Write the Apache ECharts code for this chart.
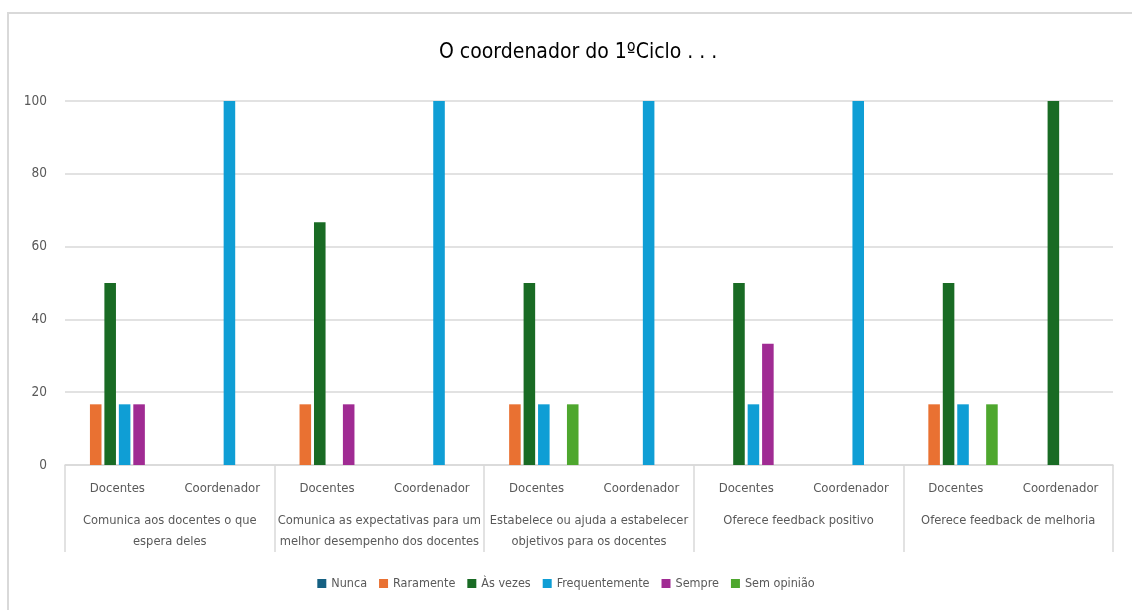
<!DOCTYPE html>
<html>
<head>
<meta charset="utf-8">
<script src="https://cdn.jsdelivr.net/npm/echarts@6/dist/echarts.min.js"></script>
<style>
  html, body { margin: 0; padding: 0; background: #fff; }
  #chart { width: 1132px; height: 610px; }
</style>
</head>
<body>
<div id="chart"></div>
<script>
// Respondent type within each question
const respondents = ['Docentes', 'Coordenador', 'Docentes', 'Coordenador', 'Docentes', 'Coordenador', 'Docentes', 'Coordenador', 'Docentes', 'Coordenador'];
// Questions (outer category level)
const questions = [
  'Comunica aos docentes o que\nespera deles',
  'Comunica as expectativas para um\nmelhor desempenho dos docentes',
  'Estabelece ou ajuda a estabelecer\nobjetivos para os docentes',
  'Oferece feedback positivo',
  'Oferece feedback de melhoria'
];
const yTicks = [0, 20, 40, 60, 80, 100];

// Percentages per answer option (Docentes, Coordenador for each question)
const nunca          = [0, 0, 0, 0, 0, 0, 0, 0, 0, 0];
const raramente      = [16.67, 0, 16.67, 0, 16.67, 0, 0, 0, 16.67, 0];
const asVezes        = [50, 0, 66.67, 0, 50, 0, 50, 0, 50, 100];
const frequentemente = [16.67, 100, 0, 100, 16.67, 100, 16.67, 100, 16.67, 0];
const sempre         = [16.67, 0, 16.67, 0, 0, 0, 33.33, 0, 0, 0];
const semOpiniao     = [0, 0, 0, 0, 16.67, 0, 0, 0, 16.67, 0];

const seriesNames = ['Nunca', 'Raramente', 'Às vezes', 'Frequentemente', 'Sempre', 'Sem opinião'];
const seriesData = [nunca, raramente, asVezes, frequentemente, sempre, semOpiniao];
const colors = ['#156082', '#E97132', '#196B24', '#0F9ED5', '#A02B93', '#4EA72E'];

const FONT = '"Liberation Sans Narrow", "DejaVu Sans Condensed", "Noto Sans", sans-serif';
const TEXT = '#595959';
const LINE = '#D9D9D9';

const chart = echarts.init(document.getElementById('chart'));

chart.setOption({
  animation: false,
  color: colors,
  textStyle: { fontFamily: FONT },
  title: {
    text: 'O coordenador do 1ºCiclo . . .',
    left: 434,
    top: 37,
    textStyle: { fontFamily: FONT, fontSize: 21, fontWeight: 'normal', color: '#000' }
  },
  graphic: [{
    type: 'rect',
    shape: { x: 8, y: 13, width: 1140, height: 640 },
    style: { fill: 'none', stroke: LINE, lineWidth: 2 },
    silent: true
  }],
  legend: {
    data: seriesNames,
    top: 572,
    left: 'center',
    icon: 'rect',
    itemWidth: 9,
    itemHeight: 9,
    itemGap: 12,
    textStyle: { fontFamily: FONT, fontSize: 12.5, color: TEXT }
  },
  grid: { left: 65, right: 19, top: 101, bottom: 145, containLabel: false },
  xAxis: [
    {
      type: 'category',
      data: respondents,
      position: 'bottom',
      axisLine: { show: true, lineStyle: { color: LINE, width: 1.5 } },
      axisTick: { show: false },
      axisLabel: {
        interval: 0, margin: 13, fontFamily: FONT, fontSize: 13,
        color: TEXT, lineHeight: 21
      }
    },
    {
      type: 'category',
      data: questions,
      position: 'bottom',
      offset: 0,
      axisLine: { show: false },
      axisTick: { show: true, length: 87, interval: 0, lineStyle: { color: LINE, width: 1.5 } },
      axisLabel: {
        interval: 0, margin: 45, fontFamily: FONT, fontSize: 12.8,
        color: TEXT, lineHeight: 21, align: 'center'
      }
    }
  ],
  yAxis: {
    type: 'value',
    min: yTicks[0],
    max: yTicks[yTicks.length - 1],
    interval: 20,
    axisLine: { show: false },
    axisTick: { show: false },
    splitLine: { lineStyle: { color: LINE, width: 1.5 } },
    axisLabel: { margin: 18, fontFamily: FONT, fontSize: 13.5, color: TEXT }
  },
  series: seriesNames.map((name, i) => ({
    name: name,
    type: 'bar',
    xAxisIndex: 0,
    data: seriesData[i],
    barGap: '25%',
    barCategoryGap: '20%',
    itemStyle: { color: colors[i] }
  }))
});
</script>
</body>
</html>
